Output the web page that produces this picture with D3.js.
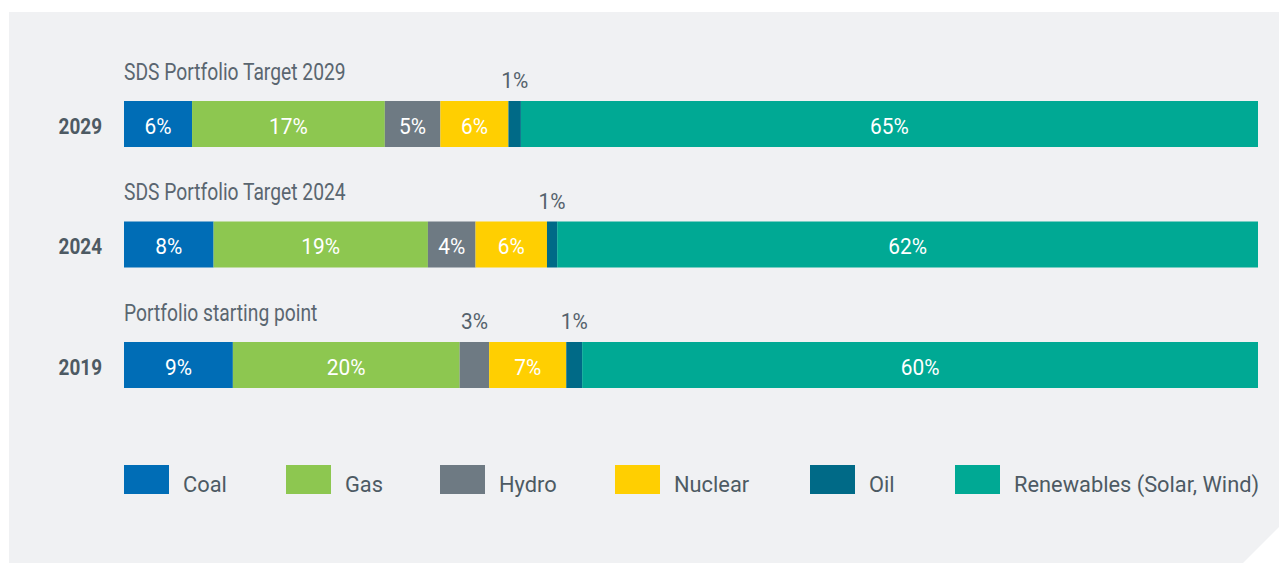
<!DOCTYPE html>
<html>
<head>
<meta charset="utf-8">
<script src="https://cdn.jsdelivr.net/npm/d3@7"></script>
<style>
  body { margin: 0; background: #fff; }
  svg text { font-family: "Roboto", "Liberation Sans", sans-serif; }
</style>
</head>
<body>
<svg id="chart" width="1279" height="563"></svg>
<script>
// rows, top to bottom
let years = ["2029", "2024", "2019"];
let subtitles = ["SDS Portfolio Target 2029", "SDS Portfolio Target 2024", "Portfolio starting point"];
let fuels = ["Coal", "Gas", "Hydro", "Nuclear", "Oil", "Renewables (Solar, Wind)"];

// shares (percent)
let shares2029 = [6.0, 17.0, 4.9, 6.0, 1.1, 65.0];
let shares2024 = [7.9, 18.9, 4.2, 6.3, 0.9, 61.8];
let shares2019 = [9.6, 20.0, 2.6, 6.8, 1.4, 59.6];

// printed labels
let labels2029 = ["6%", "17%", "5%", "6%", "1%", "65%"];
let labels2024 = ["8%", "19%", "4%", "6%", "1%", "62%"];
let labels2019 = ["9%", "20%", "3%", "7%", "1%", "60%"];

let colors = ["#006db6", "#8dc750", "#6e7a83", "#ffcf01", "#006a87", "#00a994"];

let width = 1279;
let height = 563;

let svg = d3.select("#chart");

// the font in the original is a condensed one, squeeze roboto sideways
function squeeze(sel, sx) {
  sel.attr("transform", function() {
    let t = d3.select(this);
    return "translate(" + t.attr("data-x") + "," + t.attr("data-y") + ") scale(" + sx + ",1)";
  });
}

// grey panel with the cut corner bottom right
svg.append("path")
  .attr("d", "M9,12 H" + width + " V527 L1243," + height + " H9 Z")
  .attr("fill", "#f0f1f3");

let x = d3.scaleLinear().domain([0, 100]).range([124, 1258]);
let y = d3.scalePoint().domain(years).range([124, 365]);
let color = d3.scaleOrdinal().domain(fuels).range(colors);
let barH = 46;

let rows = years.map((yr, i) => {
  let s = [shares2029, shares2024, shares2019][i];
  let l = [labels2029, labels2024, labels2019][i];
  let acc = 0;
  let segs = fuels.map((f, j) => {
    let seg = { fuel: f, x0: acc, x1: acc + s[j], label: l[j] };
    acc += s[j];
    return seg;
  });
  return { year: yr, sub: subtitles[i], segs: segs };
});

let row = svg.selectAll(".row")
  .data(rows)
  .enter()
  .append("g")
  .attr("class", "row")
  .attr("transform", (d) => "translate(0," + y(d.year) + ")");

row.selectAll("rect")
  .data((d) => d.segs)
  .enter()
  .append("rect")
  .attr("x", (d) => x(d.x0))
  .attr("y", -barH / 2)
  .attr("width", (d) => x(d.x1) - x(d.x0))
  .attr("height", barH)
  .attr("fill", (d) => color(d.fuel));

// labels: inside if the segment is wide enough, else above it
let wide = (d) => (x(d.x1) - x(d.x0)) > 35;
row.selectAll(".val")
  .data((d) => d.segs)
  .enter()
  .append("text")
  .attr("class", "val")
  .attr("data-x", (d) => (x(d.x0) + x(d.x1)) / 2)
  .attr("data-y", (d) => wide(d) ? 9.5 : -barH / 2 - 13)
  .attr("text-anchor", "middle")
  .attr("font-size", 22)
  .attr("fill", (d) => wide(d) ? "#fff" : "#55626c")
  .text((d) => d.label)
  .call(squeeze, 0.95);

// year on the left
row.append("text")
  .attr("data-x", 102)
  .attr("data-y", 9.5)
  .attr("text-anchor", "end")
  .attr("font-size", 21.5)
  .attr("font-weight", "bold")
  .attr("fill", "#4d5a63")
  .text((d) => d.year)
  .call(squeeze, 0.88);

// subtitle above each bar
row.append("text")
  .attr("data-x", 124)
  .attr("data-y", -barH / 2 - 21.5)
  .attr("font-size", 23.5)
  .attr("fill", "#5a6670")
  .text((d) => d.sub)
  .call(squeeze, 0.82);

// legend
let legendX = d3.scaleOrdinal().domain(fuels).range([124, 286, 440, 615, 810, 955]);
let legend = svg.selectAll(".legend")
  .data(fuels)
  .enter()
  .append("g")
  .attr("class", "legend")
  .attr("transform", (d) => "translate(" + legendX(d) + ",465)");

legend.append("rect")
  .attr("width", 45)
  .attr("height", 29)
  .attr("fill", (d) => color(d));

legend.append("text")
  .attr("data-x", 59)
  .attr("data-y", 27)
  .attr("font-size", 22.5)
  .attr("fill", "#4d5a63")
  .text((d) => d)
  .call(squeeze, 0.97);
</script>
</body>
</html>
